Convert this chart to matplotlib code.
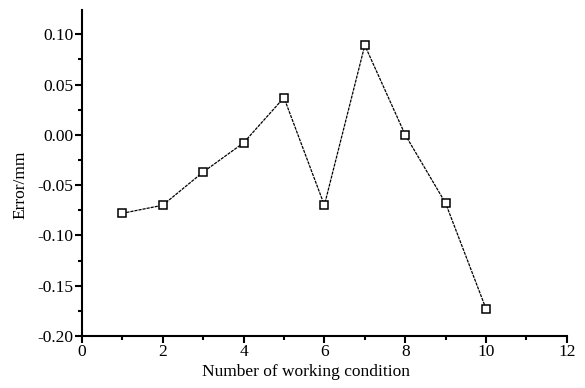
import matplotlib
matplotlib.use('Agg')
import matplotlib.pyplot as plt
from matplotlib.ticker import MultipleLocator

plt.rcParams['font.family'] = ['Liberation Serif', 'DejaVu Serif']

# error per working condition
condition = [1, 2, 3, 4, 5, 6, 7, 8, 9, 10]
error_mm = [-0.078, -0.070, -0.037, -0.008, 0.037, -0.070, 0.089, 0.000, -0.068, -0.173]

fig = plt.figure(figsize=(5.85, 3.88), dpi=100)
ax = fig.add_axes([0.140, 0.134, 0.829, 0.840])

ax.plot(condition, error_mm, color='black', linewidth=0.9, linestyle=(0, (2.5, 0.8)),
        marker='s', markersize=6, markerfacecolor='white', markeredgecolor='black',
        markeredgewidth=1.1)

ax.set_xlim(0, 12)
ax.set_ylim(-0.2, 0.124)
ax.xaxis.set_major_locator(MultipleLocator(2))
ax.xaxis.set_minor_locator(MultipleLocator(1))
ax.yaxis.set_minor_locator(MultipleLocator(0.025))
ax.set_yticks([-0.2, -0.15, -0.1, -0.05, 0.0, 0.05, 0.1])
ax.set_yticklabels(['-0.20', '-0.15', '-0.10', '-0.05', '0.00', '0.05', '0.10'])

for side in ['top', 'right']:
    ax.spines[side].set_visible(False)
for side in ['left', 'bottom']:
    ax.spines[side].set_linewidth(1.5)

ax.tick_params(which='major', direction='out', length=5, width=1.5, labelsize=12.5, pad=1)
ax.tick_params(which='minor', direction='out', length=3, width=1.5)

ax.set_xlabel('Number of working condition', fontsize=12.5)
ax.xaxis.set_label_coords(0.462, -0.085)
ax.set_ylabel('Error/mm', fontsize=12.5)
ax.yaxis.set_label_coords(-0.11, 0.463)

fig.savefig('out.png', dpi=100)
